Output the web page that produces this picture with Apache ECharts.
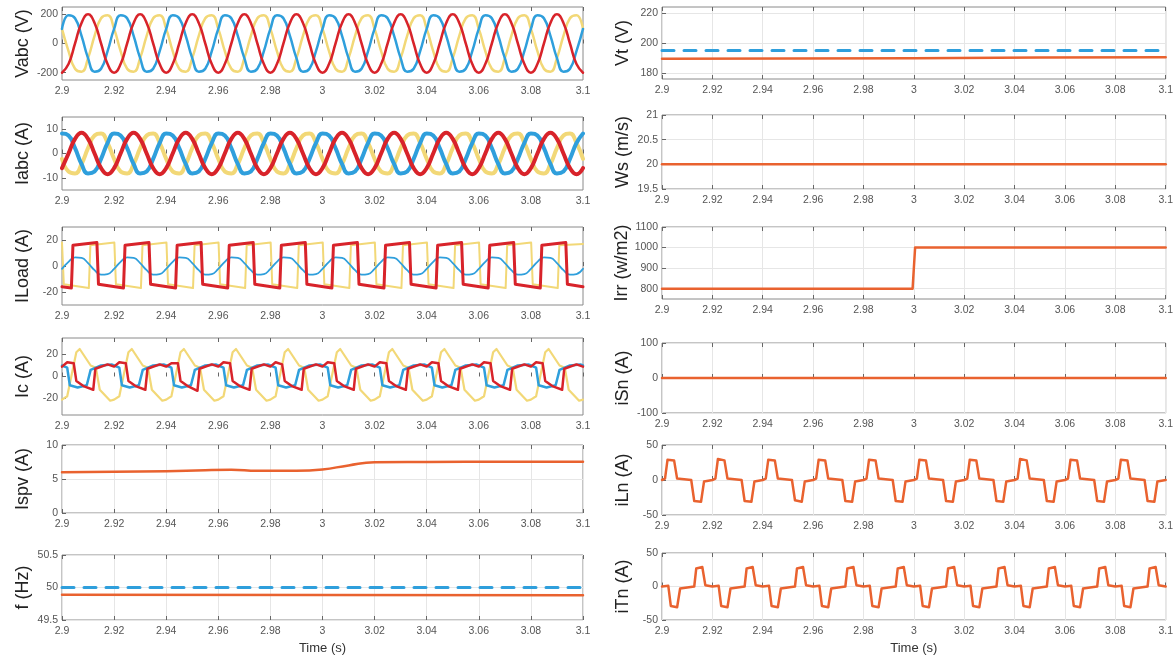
<!DOCTYPE html>
<html>
<head>
<meta charset="utf-8">
<title>Waveforms</title>
<script src="https://cdn.jsdelivr.net/npm/echarts@6.0.0/dist/echarts.min.js"></script>
<style>
  html, body { margin: 0; padding: 0; background: #fff; }
  #chart { width: 1176px; height: 656px; }
</style>
</head>
<body>
<div id="chart"></div>
<script>
// x axis ticks (s)
const timeTicks = [2.9, 2.92, 2.94, 2.96, 2.98, 3, 3.02, 3.04, 3.06, 3.08, 3.1]

// sample times of the sinusoidal traces (s)
const tSine = [
  2.9, 2.9025, 2.905, 2.9075, 2.91, 2.9125, 2.915, 2.9175,
  2.92, 2.9225, 2.925, 2.9275, 2.93, 2.9325, 2.935, 2.9375,
  2.94, 2.9425, 2.945, 2.9475, 2.95, 2.9525, 2.955, 2.9575,
  2.96, 2.9625, 2.965, 2.9675, 2.97, 2.9725, 2.975, 2.9775,
  2.98, 2.9825, 2.985, 2.9875, 2.99, 2.9925, 2.995, 2.9975,
  3, 3.0025, 3.005, 3.0075, 3.01, 3.0125, 3.015, 3.0175,
  3.02, 3.0225, 3.025, 3.0275, 3.03, 3.0325, 3.035, 3.0375,
  3.04, 3.0425, 3.045, 3.0475, 3.05, 3.0525, 3.055, 3.0575,
  3.06, 3.0625, 3.065, 3.0675, 3.07, 3.0725, 3.075, 3.0775,
  3.08, 3.0825, 3.085, 3.0875, 3.09, 3.0925, 3.095, 3.0975,
  3.1
]

// grid voltages (V)
const vabcRed = [
  -200, -141, 0, 141, 200, 141, 0, -141,
  -200, -141, 0, 141, 200, 141, 0, -141,
  -200, -141, 0, 141, 200, 141, 0, -141,
  -200, -141, 0, 141, 200, 141, 0, -141,
  -200, -141, 0, 141, 200, 141, 0, -141,
  -200, -141, 0, 141, 200, 141, 0, -141,
  -200, -141, 0, 141, 200, 141, 0, -141,
  -200, -141, 0, 141, 200, 141, 0, -141,
  -200, -141, 0, 141, 200, 141, 0, -141,
  -200, -141, 0, 141, 200, 141, 0, -141,
  -200
]
const vabcBlue = [
  100, 193, 173, 52, -100, -193, -173, -52,
  100, 193, 173, 52, -100, -193, -173, -52,
  100, 193, 173, 52, -100, -193, -173, -52,
  100, 193, 173, 52, -100, -193, -173, -52,
  100, 193, 173, 52, -100, -193, -173, -52,
  100, 193, 173, 52, -100, -193, -173, -52,
  100, 193, 173, 52, -100, -193, -173, -52,
  100, 193, 173, 52, -100, -193, -173, -52,
  100, 193, 173, 52, -100, -193, -173, -52,
  100, 193, 173, 52, -100, -193, -173, -52,
  100
]
const vabcYellow = [
  100, -52, -173, -193, -100, 52, 173, 193,
  100, -52, -173, -193, -100, 52, 173, 193,
  100, -52, -173, -193, -100, 52, 173, 193,
  100, -52, -173, -193, -100, 52, 173, 193,
  100, -52, -173, -193, -100, 52, 173, 193,
  100, -52, -173, -193, -100, 52, 173, 193,
  100, -52, -173, -193, -100, 52, 173, 193,
  100, -52, -173, -193, -100, 52, 173, 193,
  100, -52, -173, -193, -100, 52, 173, 193,
  100, -52, -173, -193, -100, 52, 173, 193,
  100
]

// grid currents (A)
const iabcRed = [
  -6, 0, 6, 8.5, 6, 0, -6, -8.5,
  -6, 0, 6, 8.5, 6, 0, -6, -8.5,
  -6, 0, 6, 8.5, 6, 0, -6, -8.5,
  -6, 0, 6, 8.5, 6, 0, -6, -8.5,
  -6, 0, 6, 8.5, 6, 0, -6, -8.5,
  -6, 0, 6, 8.5, 6, 0, -6, -8.5,
  -6, 0, 6, 8.5, 6, 0, -6, -8.5,
  -6, 0, 6, 8.5, 6, 0, -6, -8.5,
  -6, 0, 6, 8.5, 6, 0, -6, -8.5,
  -6, 0, 6, 8.5, 6, 0, -6, -8.5,
  -6
]
const iabcBlue = [
  8.2, 7.4, 2.2, -4.3, -8.2, -7.4, -2.2, 4.3,
  8.2, 7.4, 2.2, -4.3, -8.2, -7.4, -2.2, 4.3,
  8.2, 7.4, 2.2, -4.3, -8.2, -7.4, -2.2, 4.3,
  8.2, 7.4, 2.2, -4.3, -8.2, -7.4, -2.2, 4.3,
  8.2, 7.4, 2.2, -4.3, -8.2, -7.4, -2.2, 4.3,
  8.2, 7.4, 2.2, -4.3, -8.2, -7.4, -2.2, 4.3,
  8.2, 7.4, 2.2, -4.3, -8.2, -7.4, -2.2, 4.3,
  8.2, 7.4, 2.2, -4.3, -8.2, -7.4, -2.2, 4.3,
  8.2, 7.4, 2.2, -4.3, -8.2, -7.4, -2.2, 4.3,
  8.2, 7.4, 2.2, -4.3, -8.2, -7.4, -2.2, 4.3,
  8.2
]
const iabcYellow = [
  -2.2, -7.4, -8.2, -4.3, 2.2, 7.4, 8.2, 4.3,
  -2.2, -7.4, -8.2, -4.3, 2.2, 7.4, 8.2, 4.3,
  -2.2, -7.4, -8.2, -4.3, 2.2, 7.4, 8.2, 4.3,
  -2.2, -7.4, -8.2, -4.3, 2.2, 7.4, 8.2, 4.3,
  -2.2, -7.4, -8.2, -4.3, 2.2, 7.4, 8.2, 4.3,
  -2.2, -7.4, -8.2, -4.3, 2.2, 7.4, 8.2, 4.3,
  -2.2, -7.4, -8.2, -4.3, 2.2, 7.4, 8.2, 4.3,
  -2.2, -7.4, -8.2, -4.3, 2.2, 7.4, 8.2, 4.3,
  -2.2, -7.4, -8.2, -4.3, 2.2, 7.4, 8.2, 4.3,
  -2.2, -7.4, -8.2, -4.3, 2.2, 7.4, 8.2, 4.3,
  -2.2
]

// load currents (A)
const iLoadRed = [
  [2.9, -16],
  [2.9036, -17], [2.9042, 16], [2.9134, 18], [2.914, -14],
  [2.9236, -17], [2.9242, 16], [2.9334, 18], [2.934, -14],
  [2.9436, -17], [2.9442, 16], [2.9534, 18], [2.954, -14],
  [2.9636, -17], [2.9642, 16], [2.9734, 18], [2.974, -14],
  [2.9836, -17], [2.9842, 16], [2.9934, 18], [2.994, -14],
  [3.0036, -17], [3.0042, 16], [3.0134, 18], [3.014, -14],
  [3.0236, -17], [3.0242, 16], [3.0334, 18], [3.034, -14],
  [3.0436, -17], [3.0442, 16], [3.0534, 18], [3.054, -14],
  [3.0636, -17], [3.0642, 16], [3.0734, 18], [3.074, -14],
  [3.0836, -17], [3.0842, 16], [3.0934, 18], [3.094, -14],
  [3.1, -16]
]
const iLoadYellow = [
  [2.9, 18], [2.9007, -14], [2.9103, -17], [2.9109, 16],
  [2.9201, 18], [2.9207, -14], [2.9303, -17], [2.9309, 16],
  [2.9401, 18], [2.9407, -14], [2.9503, -17], [2.9509, 16],
  [2.9601, 18], [2.9607, -14], [2.9703, -17], [2.9709, 16],
  [2.9801, 18], [2.9807, -14], [2.9903, -17], [2.9909, 16],
  [3.0001, 18], [3.0007, -14], [3.0103, -17], [3.0109, 16],
  [3.0201, 18], [3.0207, -14], [3.0303, -17], [3.0309, 16],
  [3.0401, 18], [3.0407, -14], [3.0503, -17], [3.0509, 16],
  [3.0601, 18], [3.0607, -14], [3.0703, -17], [3.0709, 16],
  [3.0801, 18], [3.0807, -14], [3.0903, -17], [3.0909, 16],
  [3.1, 17]
]
const iLoadBlue = [
  -2.2, 3.2, 6.7, 6.2, 2.2, -3.2, -6.7, -6.2,
  -2.2, 3.2, 6.7, 6.2, 2.2, -3.2, -6.7, -6.2,
  -2.2, 3.2, 6.7, 6.2, 2.2, -3.2, -6.7, -6.2,
  -2.2, 3.2, 6.7, 6.2, 2.2, -3.2, -6.7, -6.2,
  -2.2, 3.2, 6.7, 6.2, 2.2, -3.2, -6.7, -6.2,
  -2.2, 3.2, 6.7, 6.2, 2.2, -3.2, -6.7, -6.2,
  -2.2, 3.2, 6.7, 6.2, 2.2, -3.2, -6.7, -6.2,
  -2.2, 3.2, 6.7, 6.2, 2.2, -3.2, -6.7, -6.2,
  -2.2, 3.2, 6.7, 6.2, 2.2, -3.2, -6.7, -6.2,
  -2.2, 3.2, 6.7, 6.2, 2.2, -3.2, -6.7, -6.2,
  -2.2
]

// compensator currents (A)
const icRed = [
  [2.9, 9], [2.902, 13], [2.9045, 12], [2.9055, -4], [2.9085, -9], [2.912, -12], [2.9128, 7], [2.9175, 11],
  [2.92, 9], [2.922, 13], [2.9245, 12], [2.9255, -4], [2.9285, -9], [2.932, -12], [2.9328, 7], [2.9375, 11],
  [2.94, 9], [2.942, 12], [2.9445, 12], [2.9455, -4], [2.9485, -9], [2.952, -13], [2.9528, 7], [2.9575, 11],
  [2.96, 9], [2.962, 13], [2.9645, 12], [2.9655, -4], [2.9685, -9], [2.972, -12], [2.9728, 7], [2.9775, 11],
  [2.98, 9], [2.982, 13], [2.9845, 11], [2.9855, -4], [2.9885, -9], [2.992, -12], [2.9928, 7], [2.9975, 11],
  [3, 9], [3.002, 13], [3.0045, 12], [3.0055, -4], [3.0085, -9], [3.012, -12], [3.0128, 7], [3.0175, 11],
  [3.02, 9], [3.022, 13], [3.0245, 12], [3.0255, -4], [3.0285, -9], [3.032, -12], [3.0328, 7], [3.0375, 11],
  [3.04, 9], [3.042, 13], [3.0445, 12], [3.0455, -4], [3.0485, -9], [3.052, -12], [3.0528, 7], [3.0575, 11],
  [3.06, 9], [3.062, 13], [3.0645, 12], [3.0655, -4], [3.0685, -9], [3.072, -12], [3.0728, 7], [3.0775, 11],
  [3.08, 9], [3.082, 13], [3.0845, 12], [3.0855, -4], [3.0885, -9], [3.092, -12], [3.0928, 7], [3.0975, 11],
  [3.1, 9]
]
const icBlue = [
  [2.9, 10], [2.902, 8], [2.903, -8], [2.906, -10], [2.9095, -8], [2.911, 6], [2.915, 10], [2.919, 11],
  [2.92, 10], [2.922, 8], [2.923, -8], [2.926, -10], [2.9295, -8], [2.931, 6], [2.935, 10], [2.939, 11],
  [2.94, 10], [2.942, 8], [2.943, -8], [2.946, -10], [2.9495, -8], [2.951, 6], [2.955, 10], [2.959, 11],
  [2.96, 10], [2.962, 8], [2.963, -8], [2.966, -10], [2.9695, -8], [2.971, 6], [2.975, 10], [2.979, 11],
  [2.98, 10], [2.982, 8], [2.983, -8], [2.986, -10], [2.9895, -8], [2.991, 6], [2.995, 10], [2.999, 11],
  [3, 10], [3.002, 8], [3.003, -8], [3.006, -10], [3.0095, -8], [3.011, 6], [3.015, 10], [3.019, 11],
  [3.02, 10], [3.022, 8], [3.023, -8], [3.026, -10], [3.0295, -8], [3.031, 6], [3.035, 10], [3.039, 11],
  [3.04, 10], [3.042, 8], [3.043, -8], [3.046, -10], [3.0495, -8], [3.051, 6], [3.055, 10], [3.059, 11],
  [3.06, 10], [3.062, 8], [3.063, -8], [3.066, -10], [3.0695, -8], [3.071, 6], [3.075, 10], [3.079, 11],
  [3.08, 10], [3.082, 8], [3.083, -8], [3.086, -10], [3.0895, -8], [3.091, 6], [3.095, 10], [3.099, 11],
  [3.1, 10]
]
const icYellow = [
  [2.9, -21], [2.902, -18], [2.9055, 22], [2.9068, 25], [2.911, 10], [2.913, 8], [2.9145, -12], [2.9185, -22],
  [2.92, -21], [2.922, -18], [2.9255, 22], [2.9268, 25], [2.931, 10], [2.933, 8], [2.9345, -12], [2.9385, -22],
  [2.94, -21], [2.942, -18], [2.9455, 22], [2.9468, 25], [2.951, 10], [2.953, 8], [2.9545, -12], [2.9585, -22],
  [2.96, -21], [2.962, -18], [2.9655, 22], [2.9668, 25], [2.971, 10], [2.973, 8], [2.9745, -12], [2.9785, -22],
  [2.98, -21], [2.982, -18], [2.9855, 22], [2.9868, 25], [2.991, 10], [2.993, 8], [2.9945, -12], [2.9985, -22],
  [3, -21], [3.002, -18], [3.0055, 22], [3.0068, 25], [3.011, 10], [3.013, 8], [3.0145, -12], [3.0185, -22],
  [3.02, -21], [3.022, -18], [3.0255, 22], [3.0268, 25], [3.031, 10], [3.033, 8], [3.0345, -12], [3.0385, -22],
  [3.04, -21], [3.042, -18], [3.0455, 22], [3.0468, 25], [3.051, 10], [3.053, 8], [3.0545, -12], [3.0585, -22],
  [3.06, -21], [3.062, -18], [3.0655, 22], [3.0668, 25], [3.071, 10], [3.073, 8], [3.0745, -12], [3.0785, -22],
  [3.08, -21], [3.082, -18], [3.0855, 22], [3.0868, 25], [3.091, 10], [3.093, 8], [3.0945, -12], [3.0985, -22],
  [3.1, -21]
]

// PV current, frequency
const iSpv = [[2.9, 6.0], [2.92, 6.05], [2.94, 6.15], [2.955, 6.3], [2.965, 6.35], [2.975, 6.2], [2.99, 6.2],
  [3.0, 6.4], [3.01, 7.0], [3.02, 7.45], [3.04, 7.5], [3.07, 7.55], [3.1, 7.55]]
const freq = [[2.9, 49.89], [3.1, 49.88]]
const freqRef = [[2.9, 50], [3.1, 50]]

// right column
const vt = [[2.9, 189.5], [2.95, 189.6], [3.0, 189.8], [3.05, 190.3], [3.1, 190.5]]
const vtRef = [[2.9, 195], [3.1, 195]]
const windSpeed = [[2.9, 20], [3.1, 20]]
const irr = [[2.9, 800], [2.9995, 800], [3.0005, 1000], [3.1, 1000]]
const iSn = [[2.9, 0], [3.1, 0]]
const iLn = [
  [2.9, 0], [2.9012, 2], [2.9022, 29], [2.9048, 28], [2.906, 2], [2.9116, 0], [2.9128, -30], [2.9155, -31], [2.9167, -2],
  [2.92, 0], [2.9212, 2], [2.9222, 30], [2.9248, 28], [2.926, 2], [2.9316, 0], [2.9328, -30], [2.9355, -31], [2.9367, -2],
  [2.94, 0], [2.9412, 2], [2.9422, 29], [2.9448, 28], [2.946, 2], [2.9516, 0], [2.9528, -29], [2.9555, -31], [2.9567, -2],
  [2.96, 0], [2.9612, 2], [2.9622, 29], [2.9648, 28], [2.966, 2], [2.9716, 0], [2.9728, -30], [2.9755, -31], [2.9767, -2],
  [2.98, 0], [2.9812, 2], [2.9822, 29], [2.9848, 28], [2.986, 2], [2.9916, 0], [2.9928, -30], [2.9955, -31], [2.9967, -2],
  [3, 0], [3.0012, 2], [3.0022, 29], [3.0048, 28], [3.006, 2], [3.0116, 0], [3.0128, -30], [3.0155, -31], [3.0167, -2],
  [3.02, 0], [3.0212, 2], [3.0222, 29], [3.0248, 28], [3.026, 2], [3.0316, 0], [3.0328, -30], [3.0355, -31], [3.0367, -2],
  [3.04, 0], [3.0412, 2], [3.0422, 30], [3.0448, 28], [3.046, 2], [3.0516, 0], [3.0528, -30], [3.0555, -31], [3.0567, -2],
  [3.06, 0], [3.0612, 2], [3.0622, 29], [3.0648, 28], [3.066, 2], [3.0716, 0], [3.0728, -30], [3.0755, -31], [3.0767, -2],
  [3.08, 0], [3.0812, 2], [3.0822, 29], [3.0848, 28], [3.086, 2], [3.0916, 0], [3.0928, -30], [3.0955, -31], [3.0967, -2],
  [3.1, 0]
]
const iTn = [
  [2.9, 0], [2.9025, 1], [2.9035, -29], [2.906, -31], [2.9072, -3], [2.9128, 0], [2.9136, 27], [2.916, 29], [2.9172, 2],
  [2.92, 0], [2.9225, 1], [2.9235, -29], [2.926, -31], [2.9272, -3], [2.9328, 0], [2.9336, 27], [2.936, 29], [2.9372, 2],
  [2.94, 0], [2.9425, 1], [2.9435, -29], [2.946, -31], [2.9472, -3], [2.9528, 0], [2.9536, 27], [2.956, 29], [2.9572, 2],
  [2.96, 0], [2.9625, 1], [2.9635, -29], [2.966, -31], [2.9672, -3], [2.9728, 0], [2.9736, 27], [2.976, 29], [2.9772, 2],
  [2.98, 0], [2.9825, 1], [2.9835, -29], [2.986, -31], [2.9872, -3], [2.9928, 0], [2.9936, 27], [2.996, 29], [2.9972, 2],
  [3, 0], [3.0025, 1], [3.0035, -29], [3.006, -31], [3.0072, -3], [3.0128, 0], [3.0136, 27], [3.016, 29], [3.0172, 2],
  [3.02, 0], [3.0225, 1], [3.0235, -29], [3.026, -31], [3.0272, -3], [3.0328, 0], [3.0336, 27], [3.036, 29], [3.0372, 2],
  [3.04, 0], [3.0425, 1], [3.0435, -29], [3.046, -31], [3.0472, -3], [3.0528, 0], [3.0536, 27], [3.056, 29], [3.0572, 2],
  [3.06, 0], [3.0625, 1], [3.0635, -29], [3.066, -31], [3.0672, -3], [3.0728, 0], [3.0736, 27], [3.076, 29], [3.0772, 2],
  [3.08, 0], [3.0825, 1], [3.0835, -29], [3.086, -31], [3.0872, -3], [3.0928, 0], [3.0936, 27], [3.096, 29], [3.0972, 2],
  [3.1, 0]
]

const pairs = (ts, vs) => ts.map((t, i) => [t, vs[i]])

const cRed = '#d8232a'
const cBlue = '#2f9fdc'
const cYellow = '#f2d877'
const cOrange = '#e9622f'
const font = 'Liberation Sans, Arial, sans-serif'

// one entry per subplot
const panels = [
  { label: 'Vabc (V)', col: 0, top: 7, height: 73, min: -250, max: 250, ticks: [-200, 0, 200], grid: false, lines: [
    { data: pairs(tSine, vabcYellow), color: cYellow, width: 2.5, smooth: true },
    { data: pairs(tSine, vabcBlue), color: cBlue, width: 2.5, smooth: true },
    { data: pairs(tSine, vabcRed), color: cRed, width: 2.5, smooth: true }] },
  { label: 'Iabc (A)', col: 0, top: 117, height: 73, min: -15, max: 15, ticks: [-10, 0, 10], grid: false, lines: [
    { data: pairs(tSine, iabcYellow), color: cYellow, width: 4, smooth: true },
    { data: pairs(tSine, iabcBlue), color: cBlue, width: 4, smooth: true },
    { data: pairs(tSine, iabcRed), color: cRed, width: 4, smooth: true }] },
  { label: 'ILoad (A)', col: 0, top: 227, height: 78, min: -30, max: 30, ticks: [-20, 0, 20], grid: false, lines: [
    { data: iLoadYellow, color: cYellow, width: 2 },
    { data: pairs(tSine, iLoadBlue), color: cBlue, width: 1.8, smooth: true },
    { data: iLoadRed, color: cRed, width: 3 }] },
  { label: 'Ic (A)', col: 0, top: 338, height: 77, min: -35, max: 35, ticks: [-20, 0, 20], grid: false, lines: [
    { data: icYellow, color: cYellow, width: 2.2 },
    { data: icBlue, color: cBlue, width: 2.5 },
    { data: icRed, color: cRed, width: 2.5 }] },
  { label: 'Ispv (A)', col: 0, top: 445, height: 68, min: 0, max: 10, ticks: [0, 5, 10], grid: true, lines: [
    { data: iSpv, color: cOrange, width: 2.5, smooth: true }] },
  { label: 'f (Hz)', col: 0, top: 555, height: 67, min: 49.5, max: 50.5, ticks: [49.5, 50, 50.5], grid: true, lines: [
    { data: freq, color: cOrange, width: 2.5 },
    { data: freqRef, color: cBlue, width: 3, dash: [12, 10] }] },
  { label: 'Vt (V)', col: 1, top: 7, height: 72, min: 176, max: 224, ticks: [180, 200, 220], grid: true, lines: [
    { data: vt, color: cOrange, width: 2.5 },
    { data: vtRef, color: cBlue, width: 3, dash: [12, 10] }] },
  { label: 'Ws (m/s)', col: 1, top: 115, height: 74, min: 19.5, max: 21, ticks: [19.5, 20, 20.5, 21], grid: true, lines: [
    { data: windSpeed, color: cOrange, width: 2.5 }] },
  { label: 'Irr (w/m2)', col: 1, top: 227, height: 72, min: 750, max: 1100, ticks: [800, 900, 1000, 1100], grid: true, lines: [
    { data: irr, color: cOrange, width: 2.5 }] },
  { label: 'iSn (A)', col: 1, top: 343, height: 70, min: -100, max: 100, ticks: [-100, 0, 100], grid: true, lines: [
    { data: iSn, color: cOrange, width: 2.5 }] },
  { label: 'iLn (A)', col: 1, top: 445, height: 70, min: -50, max: 50, ticks: [-50, 0, 50], grid: true, lines: [
    { data: iLn, color: cOrange, width: 2.5 }] },
  { label: 'iTn (A)', col: 1, top: 553, height: 69, min: -50, max: 50, ticks: [-50, 0, 50], grid: true, lines: [
    { data: iTn, color: cOrange, width: 2.5 }] }
]

const cols = [{ left: 62, width: 521 }, { left: 662, width: 505 }]
const plain = (v) => String(v)

const grids = []
const xAxes = []
const yAxes = []
const series = []

panels.forEach((p, i) => {
  const c = cols[p.col]
  const last = i === 5 || i === 11
  grids.push({
    left: c.left, top: p.top, width: c.width, height: p.height,
    show: true, borderColor: '#8a8a8a', borderWidth: 1, backgroundColor: '#fff'
  })
  const xBase = {
    gridIndex: i, type: 'value', min: 2.9, max: 3.1,
    axisLine: { show: false },
    axisTick: { inside: true, length: 4, customValues: timeTicks, lineStyle: { color: '#666' } }
  }
  xAxes.push(Object.assign({}, xBase, {
    position: 'bottom',
    axisLabel: { customValues: timeTicks, formatter: plain, fontSize: 10.5, color: '#555', margin: 6, fontFamily: font },
    splitLine: { show: p.grid, lineStyle: { color: '#e6e6e6' } },
    name: last ? 'Time (s)' : '',
    nameLocation: 'middle', nameGap: 22,
    nameTextStyle: { fontSize: 13, color: '#333', fontFamily: font }
  }))
  xAxes.push(Object.assign({}, xBase, {
    position: 'top',
    axisLabel: { show: false },
    splitLine: { show: false }
  }))
  yAxes.push({
    gridIndex: i, type: 'value', min: p.min, max: p.max,
    axisLine: { show: false },
    axisTick: { inside: true, length: 4, customValues: p.ticks, lineStyle: { color: '#666' } },
    axisLabel: { customValues: p.ticks, formatter: plain, fontSize: 10.5, color: '#555', margin: 4, fontFamily: font },
    splitLine: { show: p.grid, lineStyle: { color: '#e6e6e6' } },
    name: p.label, nameLocation: 'middle', nameRotate: 90, nameGap: 30,
    nameTextStyle: { fontSize: 18, color: '#222', fontFamily: font }
  })
  p.lines.forEach((l) => {
    series.push({
      type: 'line', xAxisIndex: i * 2, yAxisIndex: i, data: l.data,
      showSymbol: false, smooth: l.smooth || false, silent: true,
      lineStyle: { color: l.color, width: l.width, type: l.dash || 'solid', cap: 'round', join: 'round' }
    })
  })
})

const myChart = echarts.init(document.getElementById('chart'))
const option = {
  animation: false,
  backgroundColor: '#fff',
  grid: grids,
  xAxis: xAxes,
  yAxis: yAxes,
  series
}
myChart.setOption(option)
</script>
</body>
</html>
